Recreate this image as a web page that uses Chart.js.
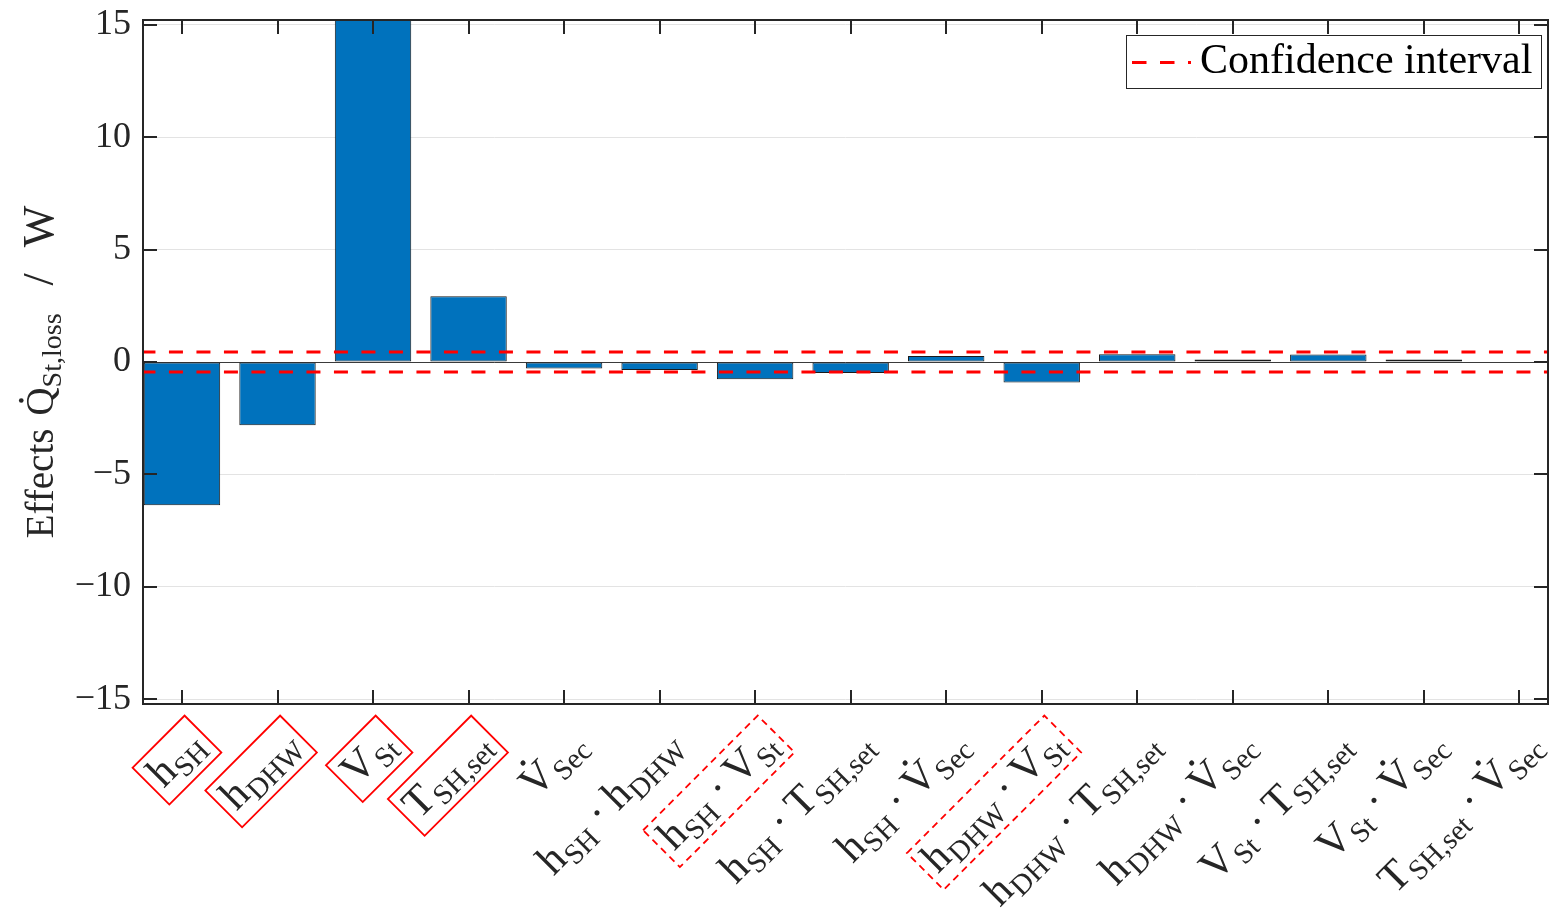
<!DOCTYPE html>
<html>
<head>
<meta charset="utf-8">
<script src="https://cdn.jsdelivr.net/npm/chart.js@4.4.1/dist/chart.umd.min.js"></script>
<style>
  html, body { margin: 0; padding: 0; background: #fff; }
  canvas { display: block; }
</style>
</head>
<body>
<canvas id="effects" width="1550" height="909"></canvas>
<script>
// Factor / interaction names: "_" starts a subscript, "·" joins interacting factors,
// U+0307 marks a time derivative (dot above the symbol).
const categories = [
  'h_SH', 'h_DHW', 'V_St', 'T_SH,set', 'V\u0307_Sec',
  'h_SH·h_DHW', 'h_SH·V_St', 'h_SH·T_SH,set', 'h_SH·V\u0307_Sec',
  'h_DHW·V_St', 'h_DHW·T_SH,set', 'h_DHW·V\u0307_Sec',
  'V_St·T_SH,set', 'V_St·V\u0307_Sec', 'T_SH,set·V\u0307_Sec'
];
// Effect on the storage heat loss in W
const effects = [-6.37, -2.81, 16.8, 2.93, -0.29, -0.36, -0.77, -0.49, 0.27, -0.91, 0.35, 0.11, 0.33, 0.11, 0.02];
// Half width of the confidence interval in W
const confidenceBound = 0.45;
const yTicks = [-15, -10, -5, 0, 5, 10, 15];
const yTitle = 'Effects Q\u0307_St,loss / W';
const legendLabel = 'Confidence interval';
// Significant effects: main effects (solid frame) and interactions (dashed frame)
const significantMain = ['h_SH', 'h_DHW', 'V_St', 'T_SH,set'];
const significantInteraction = ['h_SH·V_St', 'h_DHW·V_St'];

const SERIF = '"Liberation Serif", "Times New Roman", serif';
const INK = '#262626';
const BAR = '#0072BD';
const CI_RED = '#FF0000';

// ---- small math-text layout: base symbols, subscripts, dot operators ----
function layoutMath(ctx, str, o) {
  const runs = [];
  let x = 0;
  const font = s => `${s}px ${SERIF}`;
  str.split(' ').forEach((word, wi) => {
    if (wi > 0) x += o.space;
    word.split('·').forEach((part, pi) => {
      if (pi > 0) {
        x += o.opGap;
        ctx.font = font(o.main);
        runs.push({ t: '\u00B7', x, y: 0, size: o.main });
        x += ctx.measureText('\u00B7').width + o.opGap;
      }
      const [b, sub] = part.split('_');
      const base = b.replace('\u0307', '');
      ctx.font = font(o.main);
      const bw = ctx.measureText(base).width;
      runs.push({ t: base, x, y: 0, size: o.main, dot: b.includes('\u0307') ? bw / 2 : null });
      x += bw;
      if (sub) {
        x += o.subGap;
        ctx.font = font(o.sub);
        runs.push({ t: sub, x, y: o.drop, size: o.sub });
        x += ctx.measureText(sub).width;
      }
    });
  });
  return { runs, width: x };
}

function drawRuns(ctx, runs, ox, oy) {
  ctx.textAlign = 'left';
  ctx.textBaseline = 'alphabetic';
  runs.forEach(r => {
    ctx.font = `${r.size}px ${SERIF}`;
    ctx.fillText(r.t, ox + r.x, oy + r.y);
    if (r.dot !== null && r.dot !== undefined) {
      ctx.beginPath();
      ctx.arc(ox + r.x + r.dot + 1, oy - r.size * 0.66 - 6, r.size * 0.06, 0, Math.PI * 2);
      ctx.fill();
    }
  });
}

const LABEL = { main: 43, sub: 29, drop: 8, subGap: 1, opGap: 9, space: 10 };
const TITLE = { main: 39, sub: 28, drop: 8, subGap: 0, opGap: 6, space: 0 };
const TITLE_UNIT = { main: 44, sub: 30, drop: 8, subGap: 0, opGap: 6, space: 0 };
const TITLE_GAPS = [13, 28, 26];

const decorations = {
  id: 'decorations',
  beforeDatasetsDraw(chart) {
    const { ctx, chartArea: a, scales: { y } } = chart;
    // zero baseline
    const y0 = Math.round(y.getPixelForValue(0)) + 0.5;
    ctx.save();
    ctx.strokeStyle = '#3a3a3a';
    ctx.lineWidth = 1;
    ctx.beginPath();
    ctx.moveTo(a.left, y0);
    ctx.lineTo(a.right, y0);
    ctx.stroke();
    ctx.restore();
  },
  afterDatasetsDraw(chart) {
    const { ctx, chartArea: a, scales: { x, y } } = chart;
    ctx.save();
    ctx.strokeStyle = INK;
    ctx.lineWidth = 2;
    // inward tick marks on all four sides
    const TL = 14;
    ctx.beginPath();
    categories.forEach((_, i) => {
      const px = Math.round(x.getPixelForValue(i + 1));
      ctx.moveTo(px, a.bottom); ctx.lineTo(px, a.bottom - TL);
      ctx.moveTo(px, a.top); ctx.lineTo(px, a.top + TL);
    });
    yTicks.forEach(v => {
      const py = Math.round(y.getPixelForValue(v));
      ctx.moveTo(a.left, py); ctx.lineTo(a.left + TL, py);
      ctx.moveTo(a.right, py); ctx.lineTo(a.right - TL, py);
    });
    ctx.stroke();
    // axes box
    ctx.strokeRect(a.left, a.top, a.right - a.left, a.bottom - a.top);
    ctx.restore();
  },
  afterDraw(chart) {
    const { ctx, chartArea: a, scales: { x } } = chart;
    ctx.save();
    ctx.fillStyle = INK;

    // rotated category labels with frames for the significant effects
    const PAD = 7, BOX_H = 52, BASE_V = 11;
    categories.forEach((name, i) => {
      const px = x.getPixelForValue(i + 1);
      const lay = layoutMath(ctx, name, LABEL);
      ctx.save();
      ctx.translate(px + 21, a.bottom + 30);
      ctx.rotate(-Math.PI / 4);
      ctx.fillStyle = INK;
      drawRuns(ctx, lay.runs, -PAD - lay.width, BASE_V);
      const solid = significantMain.includes(name);
      const dashed = significantInteraction.includes(name);
      if (solid || dashed) {
        ctx.strokeStyle = CI_RED;
        ctx.lineWidth = 1.8;
        ctx.setLineDash(dashed ? [7, 5] : []);
        ctx.strokeRect(-lay.width - 2 * PAD, -BOX_H / 2, lay.width + 2 * PAD, BOX_H);
      }
      ctx.restore();
    });

    // y-axis title: quantity, then "/ unit" set slightly larger, centred on the axis
    const words = yTitle.split(' ');
    const lays = words.map((w, i) => layoutMath(ctx, w, i >= 2 ? TITLE_UNIT : TITLE));
    const total = lays.reduce((s, l) => s + l.width, 0) + TITLE_GAPS.reduce((s, g) => s + g, 0);
    let along = 0;
    ctx.save();
    ctx.translate(53, (a.top + a.bottom) / 2 + 10 + total / 2);
    ctx.rotate(-Math.PI / 2);
    ctx.fillStyle = INK;
    lays.forEach((l, i) => {
      drawRuns(ctx, l.runs, along, 0);
      along += l.width + (TITLE_GAPS[i] || 0);
    });
    ctx.restore();

    // legend
    const ci = chart.data.datasets[0];
    const L = { x: 1126.5, y: 35.5, w: 415, h: 53 };
    ctx.fillStyle = '#fff';
    ctx.fillRect(L.x, L.y, L.w, L.h);
    ctx.strokeStyle = INK;
    ctx.lineWidth = 1;
    ctx.strokeRect(L.x, L.y, L.w, L.h);
    ctx.strokeStyle = ci.borderColor;
    ctx.lineWidth = ci.borderWidth;
    ctx.setLineDash([14.5, 13.5]);
    ctx.beginPath();
    ctx.moveTo(1132, 62.5);
    ctx.lineTo(1191, 62.5);
    ctx.stroke();
    ctx.setLineDash([]);
    ctx.fillStyle = '#000';
    ctx.font = `42px ${SERIF}`;
    ctx.textAlign = 'left';
    ctx.textBaseline = 'alphabetic';
    ctx.fillText(ci.label, 1200, 72.5);
    ctx.restore();
  }
};

const xMin = 0.592, xMax = 15.3;

new Chart(document.getElementById('effects'), {
  type: 'bar',
  data: {
    datasets: [
      {
        type: 'line', label: legendLabel, order: 1,
        data: [{ x: 0, y: confidenceBound }, { x: 16, y: confidenceBound }],
        borderColor: CI_RED, borderWidth: 3, borderDash: [14, 13.5],
        pointRadius: 0, clip: 0
      },
      {
        type: 'line', label: legendLabel, order: 1,
        data: [{ x: 0, y: -confidenceBound }, { x: 16, y: -confidenceBound }],
        borderColor: CI_RED, borderWidth: 3, borderDash: [14, 13.5],
        pointRadius: 0, clip: 0
      },
      {
        type: 'bar', label: 'Effects', order: 2,
        data: effects.map((v, i) => ({ x: i + 1, y: v })),
        backgroundColor: BAR, borderColor: '#1a1a1a', borderWidth: 1,
        borderSkipped: false, barPercentage: 0.8, categoryPercentage: 1.0, clip: 0
      }
    ]
  },
  options: {
    responsive: false,
    animation: false,
    devicePixelRatio: 1,
    layout: { padding: { left: 0, top: 20, right: 2, bottom: 0 } },
    plugins: { legend: { display: false }, tooltip: { enabled: false } },
    scales: {
      x: {
        type: 'linear', min: xMin, max: xMax, offset: false,
        grid: { display: false, drawTicks: false },
        border: { display: false },
        ticks: { display: false },
        afterFit(s) { s.height = 205; s.paddingLeft = 0; s.paddingRight = 0; }
      },
      y: {
        min: -15.22, max: 15.22,
        afterBuildTicks(s) { s.ticks = yTicks.map(v => ({ value: v })); },
        grid: { color: '#e3e3e3', lineWidth: 1, drawTicks: false },
        border: { display: false },
        ticks: {
          padding: 12, color: INK,
          font: { family: SERIF, size: 36 },
          callback: v => (v < 0 ? '\u2212' : '') + Math.abs(v)
        },
        afterFit(s) { s.width = 143; s.paddingTop = 0; s.paddingBottom = 0; }
      }
    }
  },
  plugins: [decorations]
});
</script>
</body>
</html>
